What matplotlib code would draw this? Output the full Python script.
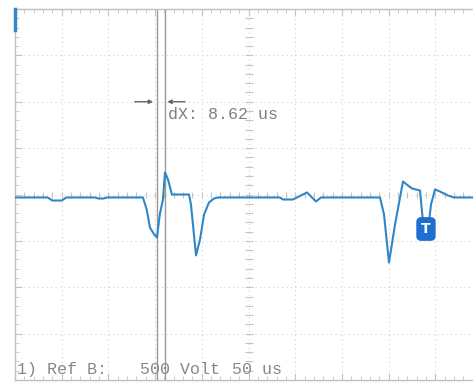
import numpy as np
import matplotlib.pyplot as plt

# scope trace, time in us, level in V (50 us/div, 500 V/div)
t_us = [0, 35, 40, 50, 55, 86, 89, 95, 98, 137, 141, 144.5, 149, 152, 155, 158.4,
        160.6, 163.8, 168, 174.5, 186.3, 188.4, 193.8, 198.1, 202.4, 207.7, 213.1,
        217.3, 283.7, 286.9, 297.6, 312.6, 322.3, 327.6, 390.8, 395.1, 400.4, 406.9,
        415.4, 420.8, 425.1, 433.6, 436.8, 443.3, 445.4, 449.7, 455, 463.6, 470, 490]
v_volt = [-32, -32, -65, -65, -32, -32, -43, -43, -32, -32, -162, -356, -431, -463,
          -216, -54, 237, 162, 0, 0, 0, -108, -657, -485, -216, -86, -43, -32, -32,
          -54, -54, 22, -75, -32, -32, -216, -733, -323, 140, 97, 65, 43, -291, -291,
          -108, 54, 32, -11, -32, -32]

cursor_us = [151.9, 160.5]
dx_label = 'dX: 8.62 us'
trig_t, trig_v = 440, -372

fig = plt.figure(figsize=(4.73, 3.83), dpi=100)
ax = fig.add_axes([15/473, 3/383, 467/473, 371/383])
ax.set_xlim(0, 500)
ax.set_ylim(-2000, 2000)

# graticule
for x in np.arange(50, 500, 50):
    ax.axvline(x, color='#d2d2d2', lw=0.8, ls=(0, (1, 3)), zorder=1)
for y in np.arange(-1500, 2000, 500):
    ax.axhline(y, color='#d2d2d2', lw=0.8, ls=(0, (1, 3)), zorder=1)
ax.plot(np.arange(0, 500, 10), np.zeros(50), ls='none', marker='|', ms=5,
        color='#c4c4c4', mew=0.8, zorder=1)
ax.plot(np.full(40, 250), np.arange(-2000, 2000, 100), ls='none', marker='_', ms=6,
        color='#c4c4c4', mew=0.8, zorder=1)

ax.set_xticks(np.arange(0, 501, 50))
ax.set_xticks(np.arange(0, 501, 10), minor=True)
ax.set_yticks(np.arange(-2000, 2001, 500))
ax.set_yticks(np.arange(-2000, 2001, 100), minor=True)
ax.tick_params(which='both', direction='in', top=True, bottom=True, left=True,
               right=False, labelleft=False, labelbottom=False, color='#c4c4c4')
ax.tick_params(which='major', length=5)
ax.tick_params(which='minor', length=3)
for s in ax.spines.values():
    s.set_color('#c0c0c0')
    s.set_linewidth(1.0)

# cursors
for c in cursor_us:
    ax.axvline(c, color='#9a9a9a', lw=1.0, zorder=2)
ax.annotate('', xy=(cursor_us[0] - 4, 1000), xytext=(128, 1000),
            arrowprops=dict(arrowstyle='-|>', color='#666666', lw=1.0,
                            mutation_scale=6, shrinkA=0, shrinkB=0))
ax.annotate('', xy=(cursor_us[1] + 2.5, 1000), xytext=(182, 1000),
            arrowprops=dict(arrowstyle='-|>', color='#666666', lw=1.0,
                            mutation_scale=6, shrinkA=0, shrinkB=0))
ax.text(163.5, 860, dx_label, family='Liberation Mono', fontsize=12,
        color='#808080', va='center', ha='left')

# trace
ax.plot(t_us, v_volt, color='#2f86c6', lw=1.5, zorder=3)

# trigger marker
ax.text(trig_t, trig_v, 'T', color='white', fontsize=10, fontweight='bold',
        ha='center', va='center', zorder=4,
        bbox=dict(boxstyle='round,pad=0.3', fc='#1f6fd0', ec='#1f6fd0'))

# channel marker
ax.plot([0, 0], [2000, 1770], color='#3a86c8', lw=2.5, clip_on=False, zorder=4)

# bottom labels
ax.text(2, -1930, '1) Ref B:', family='Liberation Mono', fontsize=12,
        color='#888888', va='baseline')
ax.text(134, -1930, '500 Volt', family='Liberation Mono', fontsize=12,
        color='#888888', va='baseline')
ax.text(232, -1930, '50 us', family='Liberation Mono', fontsize=12,
        color='#888888', va='baseline')

fig.savefig('out.png', dpi=100)
